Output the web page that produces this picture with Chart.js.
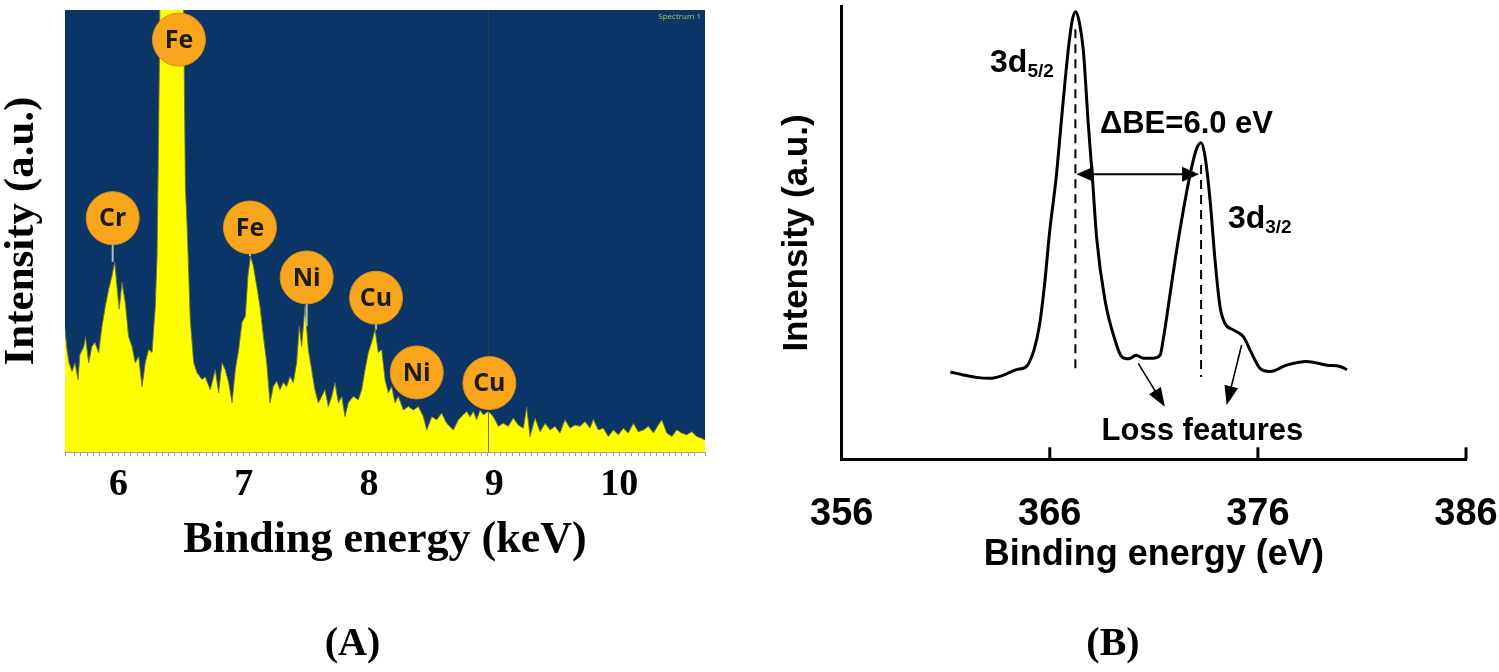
<!DOCTYPE html>
<html>
<head>
<meta charset="utf-8">
<script src="https://cdn.jsdelivr.net/npm/chart.js@4.4.0/dist/chart.umd.min.js"></script>
<style>
html,body{margin:0;padding:0;background:#fff;overflow:hidden;width:1499px;height:672px;}
#ca{position:absolute;left:0;top:0;}
#cb{position:absolute;left:760px;top:0;}
</style>
</head>
<body>
<canvas id="ca" width="740" height="672"></canvas>
<canvas id="cb" width="808" height="672"></canvas>
<script>
// ---------- Panel A: EDS spectrum ----------
const edsEnergy = [
  5.573,5.589,5.605,5.629,5.653,5.677,5.692,5.724,5.736,5.762,
  5.788,5.812,5.842,5.868,5.895,5.922,5.948,5.970,5.988,6.006,
  6.028,6.054,6.081,6.108,6.134,6.161,6.188,6.214,6.241,6.268,
  6.294,6.308,6.319,6.327,6.335,6.515,6.527,6.535,6.547,6.561,
  6.573,6.601,6.627,6.667,6.693,6.733,6.773,6.800,6.827,6.853,
  6.880,6.907,6.933,6.960,6.986,7.013,7.034,7.054,7.077,7.104,
  7.130,7.157,7.184,7.210,7.236,7.264,7.290,7.316,7.343,7.370,
  7.396,7.423,7.444,7.463,7.490,7.516,7.543,7.569,7.596,7.623,
  7.649,7.676,7.703,7.729,7.756,7.783,7.809,7.835,7.875,7.915,
  7.942,7.969,7.995,8.022,8.049,8.075,8.102,8.129,8.155,8.182,
  8.208,8.235,8.275,8.315,8.355,8.395,8.435,8.462,8.502,8.542,
  8.581,8.621,8.674,8.714,8.754,8.781,8.808,8.834,8.861,8.887,
  8.914,8.954,8.994,9.034,9.073,9.113,9.153,9.193,9.233,9.260,
  9.287,9.327,9.367,9.407,9.447,9.486,9.526,9.566,9.606,9.646,
  9.686,9.726,9.766,9.792,9.832,9.872,9.912,9.952,9.992,10.032,
  10.072,10.112,10.152,10.192,10.232,10.272,10.311,10.339,10.379,10.419,
  10.458,10.498,10.538,10.578,10.618,10.658,10.684
];
const edsCounts = [
  27.7,23.2,20.2,18.2,20.2,16.4,22.0,23.9,26.1,20.2,
  23.9,24.8,22.5,28.4,33.0,36.8,39.8,43.0,37.5,32.3,
  38.4,33.9,26.1,23.9,20.2,21.6,14.8,20.2,23.2,22.5,
  33.0,44.3,68.6,89.1,118,118,80.0,59.5,52.0,40.7,
  30.0,20.2,18.0,16.4,17.0,14.1,18.6,13.4,20.2,18.6,
  15.7,11.1,18.6,23.2,29.3,30.7,39.8,44.3,42.1,37.6,
  33.0,26.2,20.2,11.1,14.8,16.0,14.1,15.7,14.8,17.1,
  15.7,20.2,28.5,23.9,33.0,23.2,18.6,14.1,11.1,12.6,
  14.1,10.3,12.6,15.7,11.1,12.6,8.0,11.1,12.6,11.8,
  14.1,18.6,22.5,24.8,27.7,22.5,23.2,16.4,13.4,14.8,
  11.1,12.6,9.5,10.3,9.5,10.3,8.0,5.0,8.0,7.3,
  8.8,6.5,5.0,7.3,8.4,9.2,8.0,9.2,7.3,9.5,
  8.4,9.2,8.0,5.8,6.5,5.8,7.7,6.1,5.4,10.2,
  3.5,7.7,4.6,6.5,5.0,5.8,4.3,7.3,5.4,6.1,
  5.8,6.9,5.4,7.4,5.0,5.4,3.5,5.0,3.9,5.4,
  4.3,6.5,4.6,5.0,5.8,4.3,6.1,7.3,4.3,3.5,
  5.0,4.3,3.9,4.6,3.5,3.1,2.7
];
const edsTickLabels = ['6','7','8','9','10'];
const peakLabels   = ['Fe','Cr','Fe','Ni','Cu','Ni','Cu'];
const peakEnergy   = [6.483,5.954,7.050,7.503,8.057,8.382,8.962];
const peakLabelY   = [93.3,52.9,50.8,39.5,34.9,18.0,15.6];
const peakLineEnd  = [null,43.0,44.3,28.5,27.7,null,null];
const markerEnergy = 8.949;

// ---------- Panel B: XPS spectrum ----------
const xpsEnergy = [
  361.22,361.79,362.47,363.15,363.71,364.40,364.85,365.00,365.25,365.50,
  365.75,366.00,366.30,366.60,366.90,367.10,367.26,367.42,367.61,367.85,
  368.05,368.25,368.65,369.13,369.45,369.80,370.15,370.50,370.95,371.30,
  371.45,371.62,372.02,372.42,372.82,373.06,373.27,373.46,373.70,373.94,
  374.18,374.42,374.82,375.30,375.70,376.10,376.58,377.38,378.35,379.31,
  379.95,380.28
];
const xpsIntensity = [
  19.3,18.7,18.1,17.9,18.5,19.8,20.4,21.3,24.3,29.5,
  38.7,50.6,62.0,77.0,91.0,97.5,98.9,96.5,90.4,74.0,
  62.0,49.0,35.2,26.4,22.7,22.2,23.0,22.3,22.3,23.0,
  26.5,31.5,44.0,55.1,64.6,68.7,69.95,66.9,57.3,44.0,
  33.7,30.0,28.6,27.1,23.4,20.1,19.4,20.8,21.6,20.8,
  20.5,19.8
];
const xpsTicks = [356,366,376,386];
const xpsPeaks = [367.23,373.27];     // 3d5/2 and 3d3/2 positions
const deltaBE = '6.0';

const SERIF = "'Liberation Serif','Times New Roman',serif";
const SANS  = "'Liberation Sans',Arial,sans-serif";

function arrowHead(ctx, fx, fy, tx, ty, L, W) {
  const a = Math.atan2(ty - fy, tx - fx), c = Math.cos(a), s = Math.sin(a);
  ctx.beginPath();
  ctx.moveTo(tx, ty);
  ctx.lineTo(tx - L*c + (W/2)*s, ty - L*s - (W/2)*c);
  ctx.lineTo(tx - L*c - (W/2)*s, ty - L*s + (W/2)*c);
  ctx.closePath();
  ctx.fill();
}

const panelAPlugin = {
  id: 'panelA',
  beforeDraw(chart) {
    const {ctx, chartArea: a} = chart;
    ctx.save();
    ctx.fillStyle = '#0b3566';
    ctx.fillRect(a.left, a.top, a.right - a.left, a.bottom - a.top);
    ctx.restore();
  },
  afterDatasetsDraw(chart) {
    const {ctx, chartArea: a, scales: {x, y}} = chart;
    ctx.save();
    const mx = Math.round(x.getPixelForValue(markerEnergy)) + 0.5;
    ctx.strokeStyle = 'rgba(60,65,60,0.7)';
    ctx.lineWidth = 1;
    ctx.beginPath(); ctx.moveTo(mx, a.top); ctx.lineTo(mx, a.bottom); ctx.stroke();
    const r = 26.5;
    peakLabels.forEach((t, i) => {
      const cx = x.getPixelForValue(peakEnergy[i]);
      const cy = y.getPixelForValue(peakLabelY[i]);
      if (peakLineEnd[i] !== null) {
        ctx.strokeStyle = '#a9bccb'; ctx.lineWidth = 2;
        ctx.beginPath(); ctx.moveTo(cx, cy + r - 2); ctx.lineTo(cx, y.getPixelForValue(peakLineEnd[i])); ctx.stroke();
      }
      ctx.beginPath(); ctx.arc(cx, cy, r, 0, Math.PI * 2);
      ctx.fillStyle = '#f9a61c'; ctx.fill();
      ctx.strokeStyle = '#d98f12'; ctx.lineWidth = 1; ctx.stroke();
      ctx.fillStyle = '#1b1b1b';
      ctx.font = "bold 25px 'Open Sans','Noto Sans',sans-serif";
      ctx.textAlign = 'center'; ctx.textBaseline = 'middle';
      ctx.fillText(t, cx, cy + 1);
    });
    ctx.font = "8px 'Open Sans',sans-serif";
    ctx.fillStyle = '#a6c94a'; ctx.textAlign = 'right'; ctx.textBaseline = 'middle';
    ctx.fillText('Spectrum 1', a.right - 4, a.top + 7);
    ctx.restore();
  }
};

const panelBPlugin = {
  id: 'panelB',
  afterDatasetsDraw(chart) {
    const {ctx, chartArea: a, scales: {x, y}} = chart;
    const px = v => x.getPixelForValue(v), py = v => y.getPixelForValue(v);
    ctx.save();
    ctx.strokeStyle = '#000'; ctx.fillStyle = '#000';
    // inward tick marks
    ctx.lineWidth = 3;
    xpsTicks.slice(1).forEach(t => {
      const X = px(t);
      ctx.beginPath(); ctx.moveTo(X, a.bottom); ctx.lineTo(X, a.bottom - 12); ctx.stroke();
    });
    // dashed peak markers
    ctx.lineWidth = 2; ctx.setLineDash([9, 6]);
    [[xpsPeaks[0], 95, 19.4], [xpsPeaks[1], 65, 18.2]].forEach(([e, y1, y2]) => {
      ctx.beginPath(); ctx.moveTo(px(e), py(y1)); ctx.lineTo(px(e), py(y2)); ctx.stroke();
    });
    ctx.setLineDash([]);
    // double arrow
    const ay = py(63.0), ax1 = px(xpsPeaks[0]) + 1, ax2 = px(xpsPeaks[1]) - 2;
    ctx.lineWidth = 2;
    ctx.beginPath(); ctx.moveTo(ax1 + 8, ay); ctx.lineTo(ax2 - 8, ay); ctx.stroke();
    arrowHead(ctx, ax2, ay, ax1, ay, 17, 15);
    arrowHead(ctx, ax1, ay, ax2, ay, 17, 15);
    // loss-feature arrows
    ctx.lineWidth = 1.6;
    [[370.25, 21.2, 371.53, 11.6], [375.22, 25.25, 374.50, 12.0]].forEach(([e1, v1, e2, v2]) => {
      const X1 = px(e1), Y1 = py(v1), X2 = px(e2), Y2 = py(v2);
      const ang = Math.atan2(Y2 - Y1, X2 - X1);
      ctx.beginPath(); ctx.moveTo(X1, Y1); ctx.lineTo(X2 - 12 * Math.cos(ang), Y2 - 12 * Math.sin(ang)); ctx.stroke();
      arrowHead(ctx, X1, Y1, X2, Y2, 19, 14);
    });
    // labels
    ctx.textAlign = 'left'; ctx.textBaseline = 'alphabetic';
    const sub = (main, s, e, v) => {
      const X = px(e), Y = py(v);
      ctx.font = 'bold 32px ' + SANS;
      ctx.fillText(main, X, Y);
      const w = ctx.measureText(main).width;
      ctx.font = 'bold 19px ' + SANS;
      ctx.fillText(s, X + w, Y + 5);
    };
    sub('3d', '5/2', 363.13, 85.64);
    sub('3d', '3/2', 374.56, 51.04);
    ctx.font = 'bold 31px ' + SANS;
    ctx.fillText('\u0394BE=' + deltaBE + ' eV', px(368.41), py(72.03));
    ctx.fillText('Loss features', px(368.49), py(4.26));
    ctx.restore();
  }
};

// ---------- Chart A ----------
new Chart(document.getElementById('ca'), {
  type: 'line',
  data: {
    datasets: [{
      data: edsEnergy.map((e, i) => ({x: e, y: edsCounts[i]})),
      borderColor: 'rgba(110,115,55,0.9)',
      borderWidth: 1,
      backgroundColor: '#ffff00',
      fill: 'origin',
      pointRadius: 0,
      tension: 0
    }]
  },
  options: {
    responsive: false, animation: false, events: [],
    layout: {padding: {top: 10, right: 35, left: 0, bottom: 0}},
    plugins: {
      legend: {display: false}, tooltip: {enabled: false},
      title: {display: true, position: 'bottom', text: '(A)', color: '#000',
              font: {family: SERIF, size: 40, weight: 'bold', lineHeight: 1}, padding: {top: 0, bottom: 7}}
    },
    scales: {
      x: {
        type: 'linear', min: 5.573, max: 10.684,
        afterFit: s => { s.height = 173; },
        ticks: {
          stepSize: 0.05, autoSkip: false, maxRotation: 0, padding: 10, color: '#000',
          font: {family: SERIF, size: 38, weight: 'bold', lineHeight: 1},
          callback: v => {
            if (Math.abs(v - Math.round(v)) > 1e-6) return '';
            const l = String(Math.round(v));
            return edsTickLabels.includes(l) ? l : '';
          }
        },
        grid: {drawOnChartArea: false, drawTicks: true, tickLength: 4, color: '#a0a0a0'},
        border: {display: true, color: '#a0a0a0', width: 1},
        title: {display: true, text: 'Binding energy (keV)', color: '#000',
                font: {family: SERIF, size: 44, weight: 'bold', lineHeight: 1}, padding: {top: 0, bottom: 62}}
      },
      y: {
        type: 'linear', min: 0, max: 100,
        afterFit: s => { s.width = 65; },
        ticks: {display: false}, grid: {display: false}, border: {display: false},
        title: {display: true, text: 'Intensity (a.u.)', color: '#000',
                font: {family: SERIF, size: 43, weight: 'bold', lineHeight: 1}, padding: {top: 0, bottom: 0}}
      }
    }
  },
  plugins: [panelAPlugin]
});

// ---------- Chart B ----------
new Chart(document.getElementById('cb'), {
  type: 'line',
  data: {
    datasets: [{
      data: xpsEnergy.map((e, i) => ({x: e, y: xpsIntensity[i]})),
      borderColor: '#000', borderWidth: 3, fill: false,
      pointRadius: 0, tension: 0.4, cubicInterpolationMode: 'monotone'
    }]
  },
  options: {
    responsive: false, animation: false, events: [],
    layout: {padding: {top: 6.7, right: 102, left: 0, bottom: 0}},
    plugins: {
      legend: {display: false}, tooltip: {enabled: false},
      title: {display: true, position: 'bottom', text: '(B)', color: '#000',
              font: {family: SERIF, size: 40, weight: 'bold', lineHeight: 1}, padding: {top: 0, bottom: 7}}
    },
    scales: {
      x: {
        type: 'linear', min: 356, max: 386,
        afterFit: s => { s.height = 165.7; },
        ticks: {
          stepSize: 10, autoSkip: false, maxRotation: 0, padding: 28, color: '#000',
          font: {family: SANS, size: 38, weight: 'bold', lineHeight: 1},
          callback: v => xpsTicks.includes(Math.round(v)) ? String(Math.round(v)) : ''
        },
        grid: {display: false},
        border: {display: true, color: '#000', width: 3},
        title: {display: true, text: 'Binding energy (eV)', color: '#000',
                font: {family: SANS, size: 36, weight: 'bold', lineHeight: 1}, padding: {top: 0, bottom: 52}}
      },
      y: {
        type: 'linear', min: 0, max: 100,
        afterFit: s => { s.width = 81.7; },
        ticks: {display: false}, grid: {display: false},
        border: {display: true, color: '#000', width: 3},
        title: {display: true, text: 'Intensity (a.u.)', color: '#000',
                font: {family: SANS, size: 35, weight: 'bold', lineHeight: 1}, padding: {top: 20, bottom: 0}}
      }
    }
  },
  plugins: [panelBPlugin]
});
</script>
</body>
</html>
